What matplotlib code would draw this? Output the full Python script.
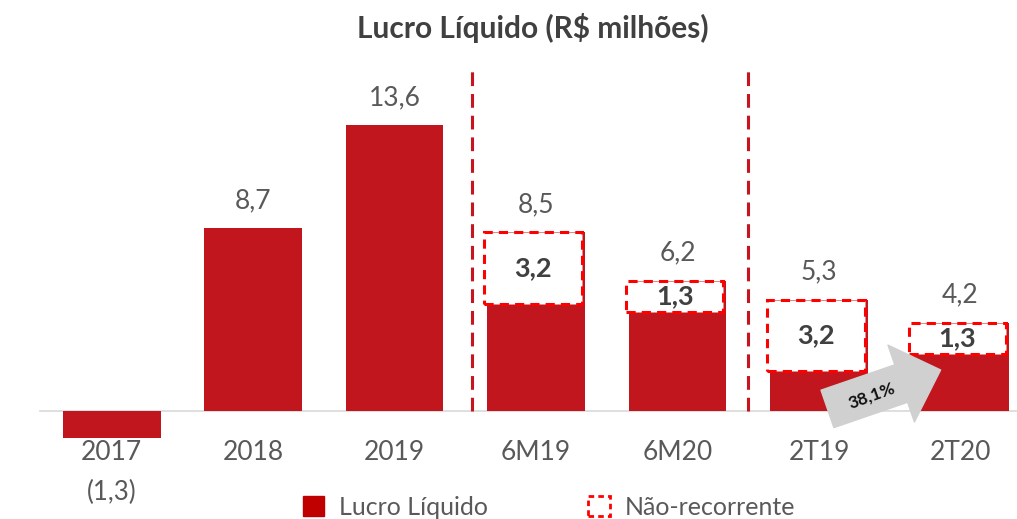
import matplotlib
matplotlib.use("Agg")
import matplotlib.pyplot as plt
from matplotlib.patches import Patch, Rectangle

plt.rcParams["font.family"] = ["Lato", "DejaVu Sans"]

categories = ["2017", "2018", "2019", "6M19", "6M20", "2T19", "2T20"]
lucro = [-1.3, 8.7, 13.6, 8.5, 6.2, 5.3, 4.2]
nao_recorrente = [0, 0, 0, 3.2, 1.3, 3.2, 1.3]
labels = ["(1,3)", "8,7", "13,6", "8,5", "6,2", "5,3", "4,2"]
box_labels = ["", "", "", "3,2", "1,3", "3,2", "1,3"]
separators = [2.55, 4.5]
growth_label = "38,1%"

BAR = "#C1161E"
GREY = "#595959"
DARK = "#404040"

fig = plt.figure(figsize=(10.17, 5.19), dpi=100)
ax = fig.add_axes([0, 0, 1, 1])
ax.set_xlim(-0.79, 6.40)
ax.set_ylim(-5.135, 19.54)
ax.axis("off")

x = list(range(len(categories)))
width = 0.69
ax.bar(x, lucro, width=width, color=BAR, zorder=2)

# baseline
ax.plot([-0.51, 6.40], [0, 0], color="#D9D9D9", lw=1.2, zorder=1)

for i, (v, nr) in enumerate(zip(lucro, nao_recorrente)):
    if nr > 0:
        box_h = nr + 0.2
        ax.add_patch(Rectangle((i - width / 2 - 0.02, v - box_h), width, box_h,
                               facecolor="white", edgecolor="#FF0000", lw=2.2,
                               linestyle=(0, (3, 2)), zorder=3))
        ax.text(i - 0.02, v - box_h / 2, box_labels[i], ha="center", va="center",
                fontsize=19.5, fontweight="bold", color=DARK, zorder=4)
    if v >= 0:
        ax.text(i, v + 1.3, labels[i], ha="center", va="center", fontsize=19, color=GREY)
    else:
        ax.text(i, -3.85, labels[i], ha="center", va="center", fontsize=18.5, color=GREY)
    ax.text(i, -1.95, categories[i], ha="center", va="center", fontsize=19, color=GREY)

for s in separators:
    ax.plot([s, s], [0, 16.2], color="#C8141E", lw=2.2, linestyle=(0, (4.5, 2.6)), zorder=1)

# growth arrow 2T19 -> 2T20
ax.annotate("", xy=(5.86, 1.95), xytext=(5.06, 0.1),
            arrowprops=dict(arrowstyle="simple,head_width=1.95,head_length=1.0,tail_width=0.95",
                            mutation_scale=30, color="#D0D0D0", shrinkA=0, shrinkB=0),
            zorder=5)
ax.text(5.37, 0.75, growth_label, ha="center", va="center", rotation=20,
        rotation_mode="anchor", fontsize=12.5, fontweight="bold", color="#111111", zorder=6)

fig.text(0.524, 0.946, "Lucro Líquido (R$ milhões)", ha="center", va="center",
         fontsize=21.5, fontweight="bold", color=DARK)

handles = [Patch(facecolor="#C00000", edgecolor="#C00000"),
           Patch(facecolor="white", edgecolor="#FF0000", linestyle=(0, (2, 1.5)), lw=2)]
fig.legend(handles, ["Lucro Líquido", "Não-recorrente"], loc="center",
           bbox_to_anchor=(0.54, 0.022), ncol=2, frameon=False, fontsize=18,
           handlelength=0.85, handleheight=0.85, handletextpad=0.6, columnspacing=4.0,
           labelcolor=GREY)

fig.savefig("out.png", dpi=100)
